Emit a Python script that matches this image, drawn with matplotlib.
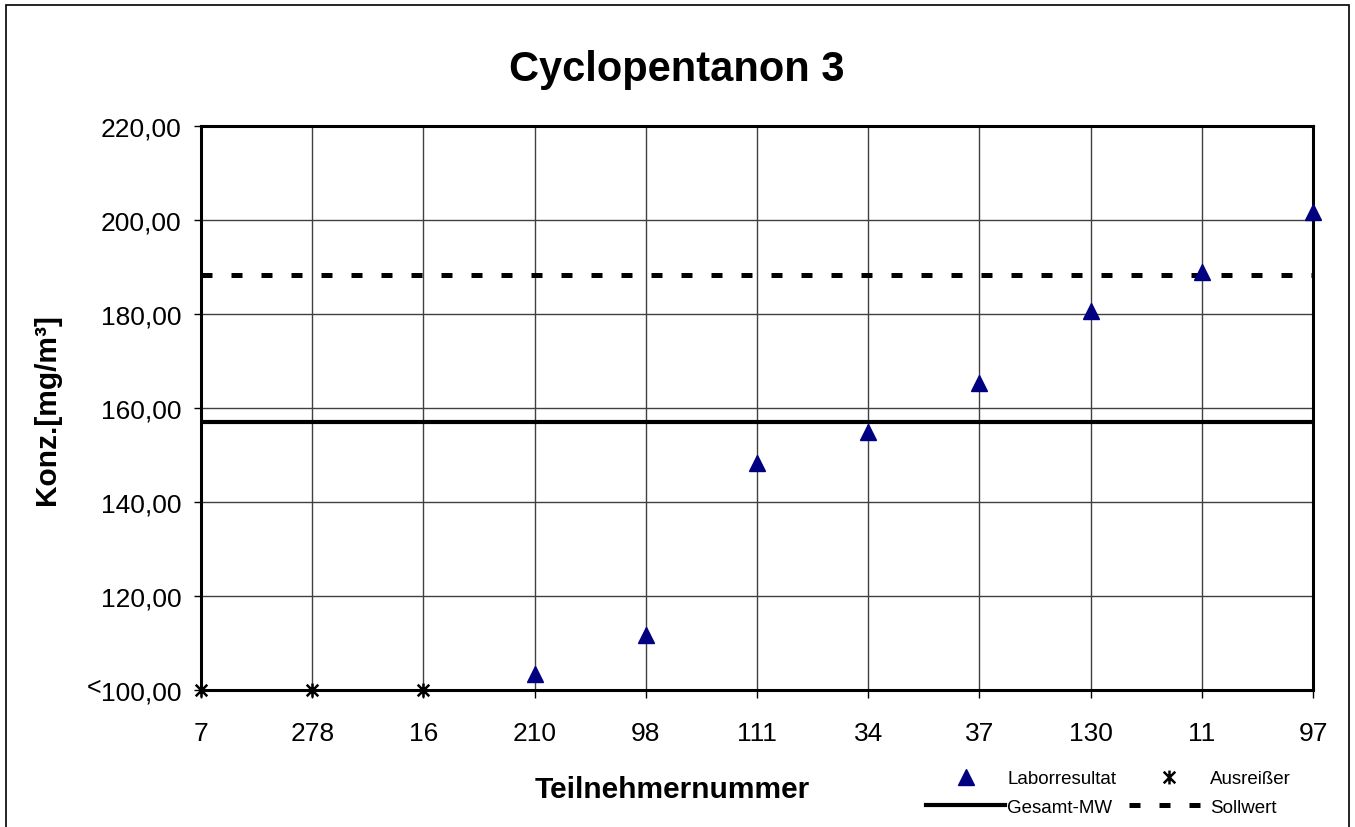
import matplotlib.pyplot as plt
from matplotlib.path import Path
from matplotlib.lines import Line2D
from matplotlib.patches import Rectangle

plt.rcParams['font.family'] = ['Liberation Sans', 'DejaVu Sans']

# Teilnehmer (x categories) and results
participants = ['7', '278', '16', '210', '98', '111', '34', '37', '130', '11', '97']
results = [None, None, None, 103.4, 111.8, 148.4, 154.9, 165.3, 180.6, 188.9, 201.7]
outliers = [100.0, 100.0, 100.0, None, None, None, None, None, None, None, None]
gesamt_mw = 157.0
sollwert = 188.3

y_ticks = [100, 120, 140, 160, 180, 200, 220]
y_labels = ['100,00', '120,00', '140,00', '160,00', '180,00', '200,00', '220,00']

# Excel-like star marker: x with vertical bar
star = Path([(-1, -1), (1, 1), (-1, 1), (1, -1), (0, -1.2), (0, 1.2)],
            [Path.MOVETO, Path.LINETO, Path.MOVETO, Path.LINETO, Path.MOVETO, Path.LINETO])

fig = plt.figure(figsize=(13.55, 8.28), dpi=100)
ax = fig.add_axes([201 / 1355, 1 - 691 / 828, (1313 - 201) / 1355, (691 - 127) / 828])

x = list(range(len(participants)))

ax.axhline(gesamt_mw, color='black', lw=3, zorder=3)
ax.axhline(sollwert, color='black', lw=3.6, dashes=(2.2, 3.8), zorder=3)

rx = [i for i, v in zip(x, results) if v is not None]
ry = [v for v in results if v is not None]
ax.plot(rx, ry, linestyle='none', marker='^', ms=12, color='#000080', zorder=5, clip_on=False)

ox = [i for i, v in zip(x, outliers) if v is not None]
oy = [v for v in outliers if v is not None]
ax.plot(ox, oy, linestyle='none', marker=star, ms=10, mew=1.8, color='black', zorder=6, clip_on=False)

ax.set_xlim(0, len(participants) - 1)
ax.set_ylim(100, 220)
ax.set_xticks(x)
ax.set_xticklabels(participants, fontsize=19)
ax.set_yticks(y_ticks)
ax.set_yticklabels(y_labels, fontsize=19)
ax.tick_params(axis='x', length=6, width=1, pad=16)
ax.tick_params(axis='y', length=5, width=1, pad=9)
ax.grid(True, color='#404040', lw=1)
ax.set_axisbelow(True)
for s in ax.spines.values():
    s.set_linewidth(2.2)

# small "<" in front of the lowest tick label
ax.annotate('<', xy=(0, y_ticks[0]), xycoords=('axes fraction', 'data'),
            xytext=(-72, 2), textcoords='offset points', fontsize=18,
            ha='right', va='center')

fig.text(677 / 1355, 1 - 70 / 828, 'Cyclopentanon 3', fontsize=30, fontweight='bold',
         ha='center', va='center')
fig.text(672 / 1355, 1 - 790 / 828, 'Teilnehmernummer', fontsize=21.5, fontweight='bold',
         ha='center', va='center')
fig.text(47 / 1355, 1 - 410 / 828, 'Konz.[mg/m³]', fontsize=21.5, fontweight='bold',
         ha='center', va='center', rotation=90)

handles = [
    Line2D([], [], linestyle='none', marker='^', ms=12, color='#000080'),
    Line2D([], [], color='black', lw=3),
    Line2D([], [], linestyle='none', marker=star, ms=10, mew=1.8, color='black'),
    Line2D([], [], color='black', lw=3.6, dashes=(2.2, 3.8)),
]
labels = ['Laborresultat', 'Gesamt-MW', 'Ausreißer', 'Sollwert']
fig.legend(handles, labels, ncol=2, frameon=False, fontsize=13.5,
           loc='lower left', bbox_to_anchor=(917 / 1355, 2 / 828), borderpad=0,
           handlelength=4.2, handletextpad=0.1, columnspacing=0.7, labelspacing=0.6)

fig.patches.append(Rectangle((6 / 1355, -0.02), 1343 / 1355, 1.02 - 6 / 828,
                             transform=fig.transFigure, fill=False, edgecolor='black', lw=1.2))

fig.savefig('out.png', dpi=100)
